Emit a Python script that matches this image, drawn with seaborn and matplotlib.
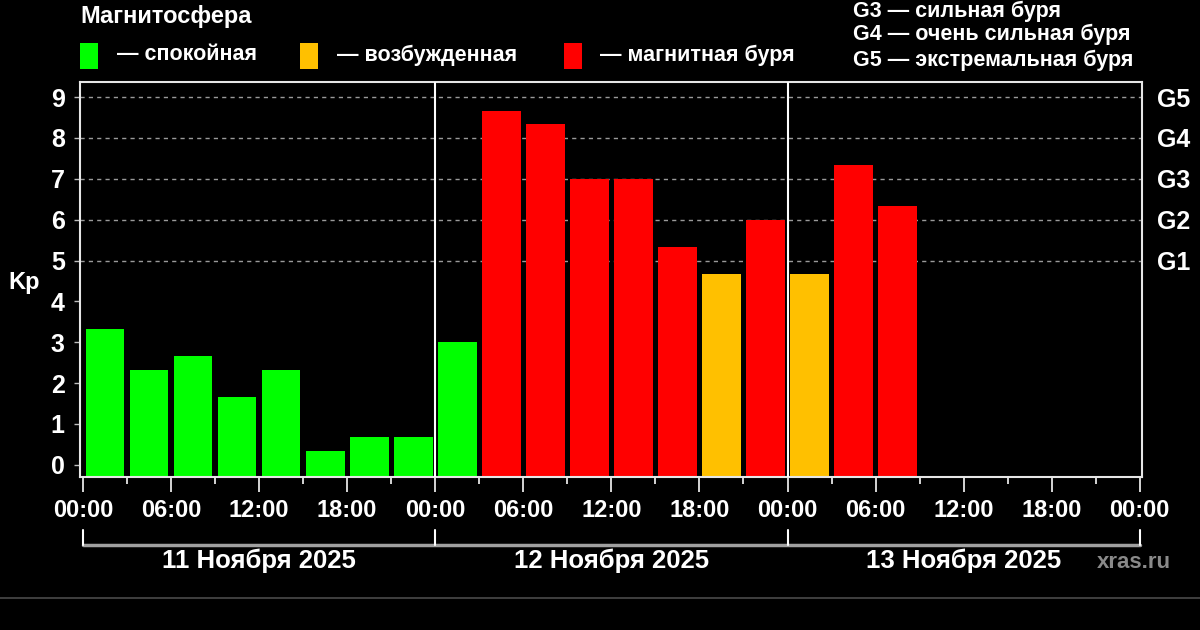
import matplotlib
matplotlib.use("Agg")
import matplotlib.pyplot as plt
import seaborn as sns
import pandas as pd
from matplotlib.patches import Rectangle
from matplotlib.lines import Line2D
from matplotlib.transforms import blended_transform_factory

# ---------------- data ----------------
interval_start_h = [0, 3, 6, 9, 12, 15, 18, 21,
                    24, 27, 30, 33, 36, 39, 42, 45,
                    48, 51, 54]
kp_values = [3.33, 2.33, 2.67, 1.67, 2.33, 0.33, 0.67, 0.67,
             3.00, 8.67, 8.33, 7.00, 7.00, 5.33, 4.67, 6.00,
             4.67, 7.33, 6.33]
status = ["спокойная"] * 9 + ["магнитная буря"] * 5 + ["возбужденная", "магнитная буря",
          "возбужденная", "магнитная буря", "магнитная буря"]
status_colors = {"спокойная": "#00FF00", "возбужденная": "#FFC000", "магнитная буря": "#FF0000"}
legend_labels = ["— спокойная", "— возбужденная", "— магнитная буря"]
legend_keys = ["спокойная", "возбужденная", "магнитная буря"]
x_tick_hours = [0, 6, 12, 18, 24, 30, 36, 42, 48, 54, 60, 66, 72]
x_tick_labels = ["00:00", "06:00", "12:00", "18:00"] * 3 + ["00:00"]
day_labels = ["11 Ноября 2025", "12 Ноября 2025", "13 Ноября 2025"]
day_starts = [0, 24, 48, 72]
g_levels = [5, 6, 7, 8, 9]
g_labels = ["G1", "G2", "G3", "G4", "G5"]
g_legend = ["G3 — сильная буря", "G4 — очень сильная буря", "G5 — экстремальная буря"]

df = pd.DataFrame({"hour": [h + 1.5 for h in interval_start_h], "kp": kp_values, "status": status})

# ---------------- style ----------------
sns.set_theme(style="dark")
plt.rcParams["font.family"] = ["Liberation Sans", "DejaVu Sans"]
plt.rcParams["font.weight"] = "bold"

W, H = 1200, 630
fig = plt.figure(figsize=(12, 6.3), dpi=100, facecolor="black")
ax = fig.add_axes([80 / W, 1 - 477 / H, (1142 - 80) / W, (477 - 82) / H])
ax.set_facecolor("black")

YMIN, YMAX = -0.3, 9.37
sns.barplot(data=df, x="hour", y="kp", hue="status", palette=status_colors,
            native_scale=True, width=0.88, dodge=False, saturation=1,
            legend=False, linewidth=0, ax=ax)
# bars in the original start from the bottom edge of the plot frame
for p in ax.patches:
    top = p.get_y() + p.get_height()
    p.set_y(YMIN)
    p.set_height(top - YMIN)

ax.set_ylim(YMIN, YMAX)
ax.set_xlim(-0.2, 72.15)

# grid lines for G levels
for g in g_levels:
    ax.axhline(g, color="#9a9a9a", lw=1.0, ls=(0, (3, 3)), zorder=0.5)
# day separators
for d in day_starts[1:-1]:
    ax.axvline(d, color="white", lw=1.5, zorder=3)

for s in ax.spines.values():
    s.set_color("#e6e6e6")
    s.set_linewidth(1.5)
    s.set_visible(True)

TICK_FS = 17
ax.set_yticks(range(10))
ax.set_yticklabels([str(i) for i in range(10)])
ax.set_xticks(x_tick_hours)
ax.set_xticklabels(x_tick_labels)
ax.set_xticks([h + 3 for h in x_tick_hours[:-1]], minor=True)
ax.tick_params(axis="x", which="major", bottom=True, length=11, width=1.3, color="#e6e6e6",
               labelcolor="white", labelsize=TICK_FS, pad=5)
ax.tick_params(axis="x", which="minor", bottom=True, length=5, width=1.3, color="#e6e6e6")
ax.tick_params(axis="y", left=True, right=True, length=4, width=1.0, color="#bdbdbd",
               labelcolor="white", labelsize=TICK_FS + 1, pad=7)
for lab in ax.get_xticklabels() + ax.get_yticklabels():
    lab.set_fontweight("bold")
ax.set_xlabel("")
ax.set_ylabel("")

# right-side G labels
ax2 = ax.twinx()
ax2.set_ylim(YMIN, YMAX)
ax2.set_yticks(g_levels)
ax2.set_yticklabels(g_labels)
ax2.tick_params(axis="y", right=False, length=0, labelcolor="white", labelsize=18, pad=11)
for lab in ax2.get_yticklabels():
    lab.set_fontweight("bold")
for s in ax2.spines.values():
    s.set_visible(False)
ax2.grid(False)

# Kp label
fig.text(8 / W, 1 - 283 / H, "Kp", color="white", fontsize=17, fontweight="bold",
         ha="left", va="center")

# date bracket
bt = blended_transform_factory(ax.transData, fig.transFigure)
y_line = 1 - 545 / H
y_tick_top = 1 - 530 / H
ax.add_line(Line2D([day_starts[0], day_starts[-1]], [y_line, y_line], transform=bt,
                   color="#a0a0a0", lw=2.5, clip_on=False))
for d in day_starts:
    ax.add_line(Line2D([d, d], [y_line, y_tick_top], transform=bt,
                       color="white", lw=1.5, clip_on=False))
for i, lbl in enumerate(day_labels):
    ax.text((day_starts[i] + day_starts[i + 1]) / 2, 1 - 561 / H, lbl, transform=bt,
            color="white", fontsize=18.5, fontweight="bold", ha="center", va="center")
fig.text(1097 / W, 1 - 562 / H, "xras.ru", color="#8a8a8a", fontsize=16,
         fontweight="bold", ha="left", va="center")

# separator line near bottom
fig.add_artist(Line2D([0, 1], [1 - 598 / H, 1 - 598 / H], transform=fig.transFigure,
                      color="#4a4a4a", lw=1.2))

# top-left legend
fig.text(80 / W, 1 - 16 / H, "Магнитосфера", color="white", fontsize=17,
         fontweight="bold", ha="left", va="center")
sq_x = [80, 300, 564]
txt_x = [117, 337, 600]
for k, lbl, sx, tx in zip(legend_keys, legend_labels, sq_x, txt_x):
    fig.add_artist(Rectangle((sx / W, 1 - 69 / H), 18 / W, 26 / H, transform=fig.transFigure,
                             facecolor=status_colors[k], edgecolor="none"))
    fig.text(tx / W, 1 - 55 / H, lbl, color="white", fontsize=15.5, fontweight="bold",
             ha="left", va="center")

# top-right G legend
for lbl, yc in zip(g_legend, [11, 34, 60]):
    fig.text(853 / W, 1 - yc / H, lbl, color="white", fontsize=15.5, fontweight="bold",
             ha="left", va="center")

fig.savefig("out.png", dpi=100, facecolor="black")
